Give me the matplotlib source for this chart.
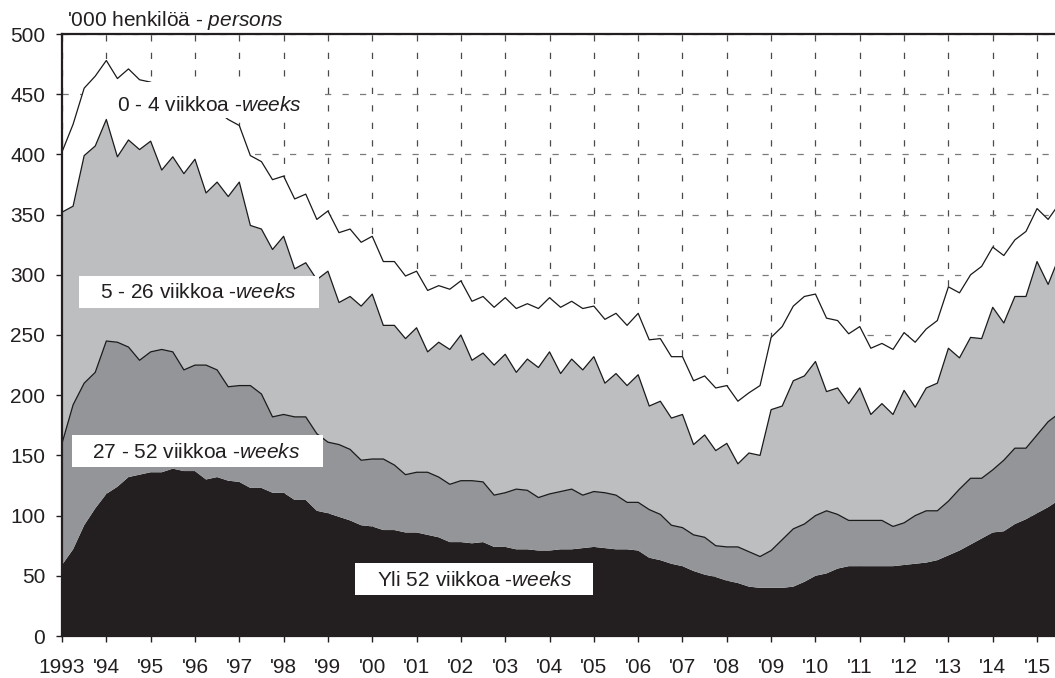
"""
Unemployed job seekers by duration of unemployment, quarterly 1993-2015,
drawn as a stacked area chart.
"""
import numpy as np
import matplotlib.pyplot as plt
from matplotlib.patches import Rectangle

plt.rcParams['font.family'] = ['Liberation Sans', 'DejaVu Sans']
plt.rcParams['mathtext.fontset'] = 'custom'
plt.rcParams['mathtext.rm'] = 'Liberation Sans'
plt.rcParams['mathtext.it'] = 'Liberation Sans:italic'

# quarterly values, '000 persons, starting 1993 Q1
start_year = 1993
yli_52 = [59, 72, 92, 106, 118, 124, 132, 134, 136, 136,
          139, 137, 137, 130, 132, 129, 128, 123, 123, 119,
          119, 113, 113, 104, 102, 99, 96, 92, 91, 88,
          88, 86, 86, 84, 82, 78, 78, 77, 78, 74,
          74, 72, 72, 71, 71, 72, 72, 73, 74, 73,
          72, 72, 71, 65, 63, 60, 58, 54, 51, 49,
          46, 44, 41, 40, 40, 40, 41, 45, 50, 52,
          56, 58, 58, 58, 58, 58, 59, 60, 61, 63,
          67, 71, 76, 81, 86, 87, 93, 97, 102, 107,
          113]
w27_52 = [101, 120, 118, 113, 127, 120, 108, 95, 100, 102,
          97, 84, 88, 95, 89, 78, 80, 85, 78, 63,
          65, 69, 69, 64, 59, 60, 59, 54, 56, 59,
          54, 48, 50, 52, 50, 48, 51, 52, 50, 43,
          45, 50, 49, 44, 47, 48, 50, 44, 46, 46,
          45, 39, 40, 40, 38, 32, 32, 30, 31, 26,
          28, 30, 29, 26, 31, 40, 48, 48, 50, 52,
          45, 38, 38, 38, 38, 33, 35, 40, 43, 41,
          45, 51, 55, 50, 52, 59, 63, 59, 65, 71,
          72]
w5_26 = [192, 165, 189, 188, 184, 154, 172, 175, 175, 149,
         162, 163, 171, 143, 156, 158, 169, 133, 137, 139,
         148, 123, 128, 128, 142, 118, 127, 128, 137, 111,
         116, 113, 120, 100, 112, 112, 121, 100, 107, 108,
         115, 97, 109, 108, 118, 98, 108, 104, 112, 91,
         101, 97, 106, 86, 94, 89, 94, 75, 85, 79,
         86, 69, 82, 84, 117, 111, 123, 123, 128, 99,
         105, 97, 110, 88, 97, 93, 110, 90, 102, 106,
         127, 109, 117, 116, 135, 114, 126, 126, 144, 114,
         130]
w0_4 = [50, 68, 56, 58, 49, 65, 59, 58, 49, 68,
        54, 62, 52, 70, 59, 64, 47, 58, 56, 58,
        50, 58, 57, 50, 50, 58, 56, 53, 48, 53,
        53, 52, 47, 51, 47, 50, 45, 49, 47, 48,
        47, 53, 46, 49, 45, 55, 48, 51, 42, 53,
        50, 50, 51, 55, 52, 51, 48, 53, 49, 52,
        48, 52, 50, 58, 60, 66, 62, 66, 56, 61,
        56, 58, 51, 55, 50, 54, 48, 54, 49, 52,
        51, 54, 52, 60, 50, 56, 47, 54, 44, 54,
        44]

year_ticks = list(range(1993, 2016))
year_labels = ['1993'] + ["'%02d" % (y % 100) for y in range(1994, 2016)]

series_labels = [r'Yli 52 viikkoa -$\mathit{weeks}$',
                 r'27 - 52 viikkoa -$\mathit{weeks}$',
                 r'5 - 26 viikkoa -$\mathit{weeks}$',
                 r'0 - 4 viikkoa -$\mathit{weeks}$']
colors = ['#231f20', '#939598', '#bcbec0', '#ffffff']

# label boxes: (x0, x1, y0, y1) in data units, text centre (x, y)
label_boxes = [(1999.61, 2004.98, 34, 60.5), (1993.23, 1998.89, 140.5, 167),
               (1993.38, 1998.80, 272.5, 299), (1994.0, 1998.8, 430, 460)]
label_pos = [(2002.32, 46.5), (1996.03, 152.8), (1996.07, 285.5), (1996.33, 441)]

quarters = start_year + np.arange(len(yli_52)) / 4
series = np.array([yli_52, w27_52, w5_26, w0_4])
tops = np.cumsum(series, axis=0)

fig = plt.figure(figsize=(10.55, 6.78), dpi=100)
ax = fig.add_axes([62 / 1055, 1 - 636 / 678, 993 / 1055, 602 / 678])

ax.stackplot(quarters, series, colors=colors, linewidth=0, zorder=2)
for k in (1, 2, 3):
    ax.plot(quarters, tops[k], color='#1a1a1a', lw=0.9, zorder=3)

for (x0, x1, y0, y1), (tx, ty), lab in zip(label_boxes, label_pos, series_labels):
    ax.add_patch(Rectangle((x0, y0), x1 - x0, y1 - y0, facecolor='white',
                           edgecolor='none', zorder=5))
    ax.text(tx, ty, lab, ha='center', va='center', fontsize=15,
            color='#231f20', zorder=6)

ax.set_xlim(1993, 2015.405)
ax.set_ylim(0, 500)
ax.set_yticks(range(0, 501, 50))
ax.set_xticks(year_ticks)
ax.set_xticklabels(year_labels)

ax.set_axisbelow(True)
ax.yaxis.grid(True, color='#7a7a7a', ls=(0, (5, 9)), lw=0.9)
ax.xaxis.grid(True, color='#4a4a4a', ls=(0, (5, 9)), lw=0.9)

for s in ('left', 'bottom', 'top'):
    ax.spines[s].set_linewidth(1.6)
    ax.spines[s].set_color('#231f20')
ax.spines['right'].set_visible(False)
ax.spines['left'].set_zorder(7)
ax.spines['bottom'].set_zorder(7)

ax.tick_params(axis='y', direction='out', length=4, width=1, pad=8,
               labelsize=15, colors='#231f20')
ax.tick_params(axis='x', direction='out', length=4, width=1, pad=12,
               labelsize=15, colors='#231f20')

fig.text(67 / 1055, 1 - 20 / 678, r"'000 henkilöä - $\mathit{persons}$",
         ha='left', va='center', fontsize=15, color='#231f20')

fig.savefig('out.png', dpi=100)
